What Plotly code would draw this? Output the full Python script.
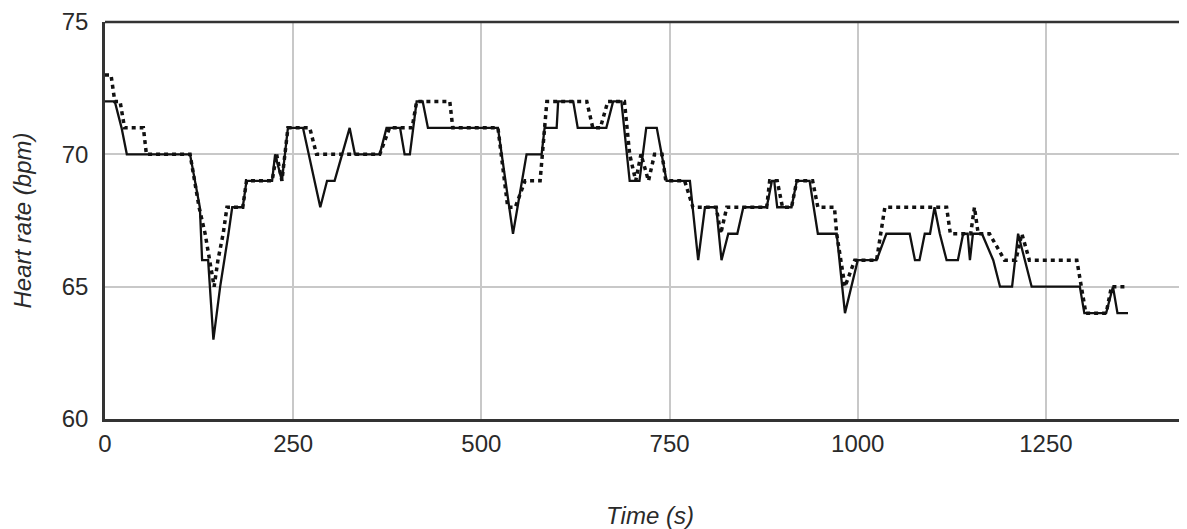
import plotly.graph_objects as go

# Solid line (measured heart rate)
solid_t = [0, 13, 22, 29, 113, 126, 129, 137, 144, 153, 164, 169, 183, 188, 222, 226, 235, 243,
           263, 286, 295, 305, 315, 325, 332, 365, 374, 392, 398, 405, 414, 422, 429, 522, 542,
           560, 580, 584, 600, 602, 622, 628, 666, 675, 686, 693, 697, 710, 719, 733, 746, 777,
           788, 797, 812, 819, 828, 840, 848, 879, 886, 889, 893, 912, 919, 936, 947, 972, 983,
           1000, 1025, 1038, 1069, 1076, 1082, 1089, 1096, 1102, 1109, 1118, 1133, 1140, 1146,
           1149, 1153, 1165, 1180, 1189, 1205, 1213, 1231, 1295, 1301, 1330, 1339, 1345, 1359]
solid_hr = [72, 72, 71, 70, 70, 68, 66, 66, 63, 65, 67, 68, 68, 69, 69, 70, 69, 71,
            71, 68, 69, 69, 70, 71, 70, 70, 71, 71, 70, 70, 72, 72, 71, 71, 67,
            70, 70, 71, 71, 72, 72, 71, 71, 72, 72, 70, 69, 69, 71, 71, 69, 69,
            66, 68, 68, 66, 67, 67, 68, 68, 69, 69, 68, 68, 69, 69, 67, 67, 64,
            66, 66, 67, 67, 66, 66, 67, 67, 68, 67, 66, 66, 67, 67,
            66, 67, 67, 66, 65, 65, 67, 65, 65, 64, 64, 65, 64, 64]

# Dotted line (estimated heart rate)
dot_t = [0, 8, 13, 20, 26, 51, 55, 113, 125, 133, 145, 150, 157, 162, 183, 188, 222, 228, 235,
         243, 272, 281, 365, 378, 408, 414, 458, 462, 522, 535, 545, 558, 578, 587, 640, 648,
         658, 668, 690, 697, 705, 712, 722, 730, 740, 745, 770, 781, 812, 818, 826, 879, 883,
         893, 900, 912, 919, 940, 947, 969, 972, 983, 996, 1025, 1036, 1118, 1123, 1150, 1155,
         1160, 1175, 1195, 1210, 1218, 1228, 1291, 1297, 1303, 1330, 1337, 1357]
dot_hr = [73, 73, 72, 72, 71, 71, 70, 70, 68, 67, 65, 66, 67, 68, 68, 69, 69, 70, 69,
          71, 71, 70, 70, 71, 71, 72, 72, 71, 71, 68, 68, 69, 69, 72, 72, 71,
          71, 72, 72, 70, 69, 70, 69, 70, 70, 69, 69, 68, 68, 67, 68, 68, 69,
          69, 68, 68, 69, 69, 68, 68, 67, 65, 66, 66, 68, 68, 67, 67, 68,
          67, 67, 66, 66, 67, 66, 66, 65, 64, 64, 65, 65]

x_ticks = [0, 250, 500, 750, 1000, 1250]
y_ticks = [60, 65, 70, 75]

fig = go.Figure()
fig.add_trace(go.Scatter(x=solid_t, y=solid_hr, mode="lines",
                         line=dict(color="#111111", width=2.3), showlegend=False))
fig.add_trace(go.Scatter(x=dot_t, y=dot_hr, mode="lines",
                         line=dict(color="#111111", width=3.5, dash="4px,4px"), showlegend=False))

font_family = "Liberation Sans, Arial, sans-serif"
fig.update_layout(
    width=1187, height=529,
    margin=dict(l=97, r=0, t=14, b=118),
    paper_bgcolor="white", plot_bgcolor="white",
    font=dict(family=font_family, size=24, color="#2a2a2a"),
)
fig.update_xaxes(
    range=[0, 1448], tickvals=x_ticks, ticktext=[str(v) for v in x_ticks],
    showgrid=True, gridcolor="#c8c8c8", gridwidth=2,
    showline=True, linecolor="#333333", linewidth=2.5, mirror=False,
    ticks="", ticklabelstandoff=1, zeroline=False, automargin=False,
    title=dict(text="Time (s)", standoff=52,
               font=dict(family=font_family, size=24, style="italic", color="#2a2a2a")),
)
fig.update_yaxes(
    range=[60, 75], tickvals=y_ticks, ticktext=[str(v) for v in y_ticks],
    showgrid=True, gridcolor="#c8c8c8", gridwidth=2,
    showline=True, linecolor="#333333", linewidth=2.5, mirror=False,
    ticks="", ticklabelstandoff=9, zeroline=False, automargin=False,
    title=dict(text="Heart rate (bpm)", standoff=24,
               font=dict(family=font_family, size=24, style="italic", color="#2a2a2a")),
)
# top border of the frame
fig.add_shape(type="line", xref="paper", yref="paper", x0=0, x1=1, y0=1, y1=1,
              line=dict(color="#333333", width=2.5))

fig.write_html("out.html")
